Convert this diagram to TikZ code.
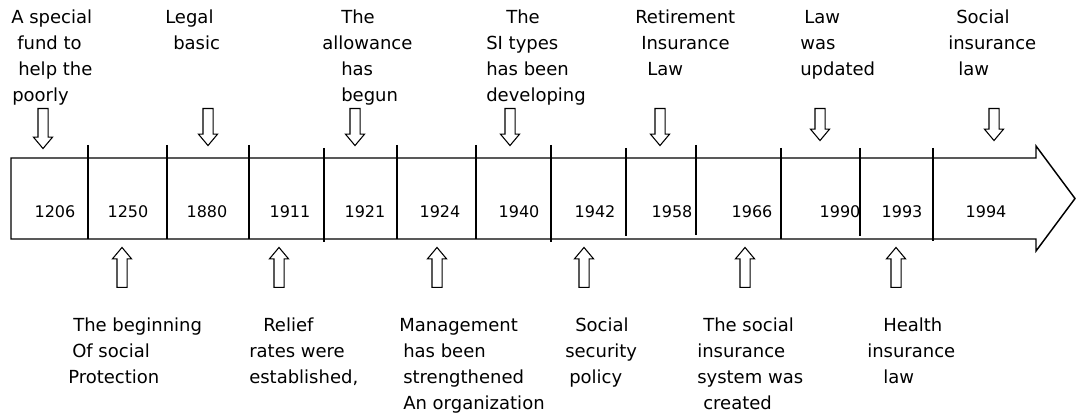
\documentclass[tikz,border=0pt]{standalone}
\usepackage{fontspec}
\setmainfont{DejaVu Sans}
\usetikzlibrary{shapes.arrows}

\tikzset{
	evtext/.style={anchor=base west, align=left, inner sep=0pt, font=\fontsize{13.5}{19.5}\selectfont},
	yeartext/.style={inner sep=0pt, font=\fontsize{12}{14}\selectfont},
	blockarrow/.style={draw, single arrow, single arrow head extend=3.4pt,
		single arrow tip angle=80, inner sep=3.375pt, minimum height=#1, anchor=tail, line width=0.8pt},
	downarrow/.style={blockarrow=#1, rotate=-90},
	uparrow/.style={blockarrow=#1, rotate=90},
	divider/.style={line width=1.1pt}
}

\begin{document}
\begin{tikzpicture}[x=0.75pt, y=-0.75pt]
		
		\useasboundingbox (0, 0) rectangle (1077, 416);
		
		% timeline arrow
		\draw [line width=1.1pt, line join=miter] (11, 158) -- (1036, 158) -- (1036, 146) -- (1075, 198.5) -- (1036, 251) -- (1036, 239) -- (11, 239) -- cycle;
		
		\draw [divider] (88, 145) -- (88, 239);
		\draw [divider] (167, 145) -- (167, 239);
		\draw [divider] (249, 145) -- (249, 239);
		\draw [divider] (324, 148) -- (324, 242);
		\draw [divider] (397, 145) -- (397, 239);
		\draw [divider] (476, 145) -- (476, 239);
		\draw [divider] (551, 145) -- (551, 242);
		\draw [divider] (626, 148) -- (626, 236);
		\draw [divider] (696, 145) -- (696, 235);
		\draw [divider] (781, 148) -- (781, 239);
		\draw [divider] (860, 148) -- (860, 236);
		\draw [divider] (933, 148) -- (933, 241);
		
		\node [yeartext] (y1206) at (55, 211.5) {1206};
		\node [yeartext] (y1250) at (128, 211.5) {1250};
		\node [yeartext] (y1880) at (207, 211.5) {1880};
		\node [yeartext] (y1911) at (290, 211.5) {1911};
		\node [yeartext] (y1921) at (365, 211.5) {1921};
		\node [yeartext] (y1924) at (440, 211.5) {1924};
		\node [yeartext] (y1940) at (519, 211.5) {1940};
		\node [yeartext] (y1942) at (595, 211.5) {1942};
		\node [yeartext] (y1958) at (672, 211.5) {1958};
		\node [yeartext] (y1966) at (752, 211.5) {1966};
		\node [yeartext] (y1990) at (840, 211.5) {1990};
		\node [yeartext] (y1993) at (902, 211.5) {1993};
		\node [yeartext] (y1994) at (986, 211.5) {1994};
		
		% events above (anchored at the last line)
		\node [evtext] (fund) at (11, 102) {A special\\\hspace*{4.5pt}fund to\\\hspace*{5.25pt}help the\\\hspace*{0.75pt}poorly};
		\node [evtext] (legal) at (165, 50) {Legal\\\hspace*{6pt}basic};
		\node [evtext] (allowance) at (322, 102) {\hspace*{14.25pt}The\\allowance\\\hspace*{14.25pt}has\\\hspace*{14.25pt}begun};
		\node [evtext] (sitypes) at (486, 102) {\hspace*{15pt}The\\SI types\\has been\\developing};
		\node [evtext] (retire) at (635, 76) {Retirement\\\hspace*{4.5pt}Insurance\\\hspace*{9pt}Law};
		\node [evtext] (lawupd) at (800, 76) {\hspace*{3pt}Law\\was\\updated};
		\node [evtext] (silaw) at (948, 76) {\hspace*{6pt}Social\\insurance\\\hspace*{7.5pt}law};
		
		\node [downarrow=30pt] (dfund) at (43, 108) {};
		\node [downarrow=27.75pt] (dlegal) at (208, 108) {};
		\node [downarrow=27.75pt] (dallowance) at (355, 108) {};
		\node [downarrow=27.75pt] (dsitypes) at (510, 108) {};
		\node [downarrow=27.75pt] (dretire) at (660, 108) {};
		\node [downarrow=24pt] (dlawupd) at (820, 108) {};
		\node [downarrow=24pt] (dsilaw) at (994, 108) {};
		
		% events below
		\node [uparrow=30pt] (ubegin) at (122, 288) {};
		\node [uparrow=30pt] (urelief) at (279, 288) {};
		\node [uparrow=30pt] (umanage) at (437, 288) {};
		\node [uparrow=30pt] (upolicy) at (584, 288) {};
		\node [uparrow=30pt] (usisystem) at (745, 288) {};
		\node [uparrow=30pt] (uhealth) at (896, 288) {};
		
		\node [evtext] (begin) at (68, 383) {\hspace*{3.75pt}The beginning\\\hspace*{3pt}Of social\\Protection};
		\node [evtext] (relief) at (249, 383) {\hspace*{10.5pt}Relief\\rates were\\established,};
		\node [evtext] (manage) at (399, 409) {Management\\\hspace*{3pt}has been\\\hspace*{3pt}strengthened\\\hspace*{3pt}An organization};
		\node [evtext] (policy) at (565, 383) {\hspace*{7.5pt}Social\\security\\\hspace*{3pt}policy};
		\node [evtext] (sisystem) at (697, 409) {\hspace*{4.5pt}The social\\insurance\\system was\\\hspace*{4.5pt}created};
		\node [evtext] (health) at (867, 383) {\hspace*{12pt}Health\\insurance\\\hspace*{12pt}law};
		
\end{tikzpicture}
\end{document}
